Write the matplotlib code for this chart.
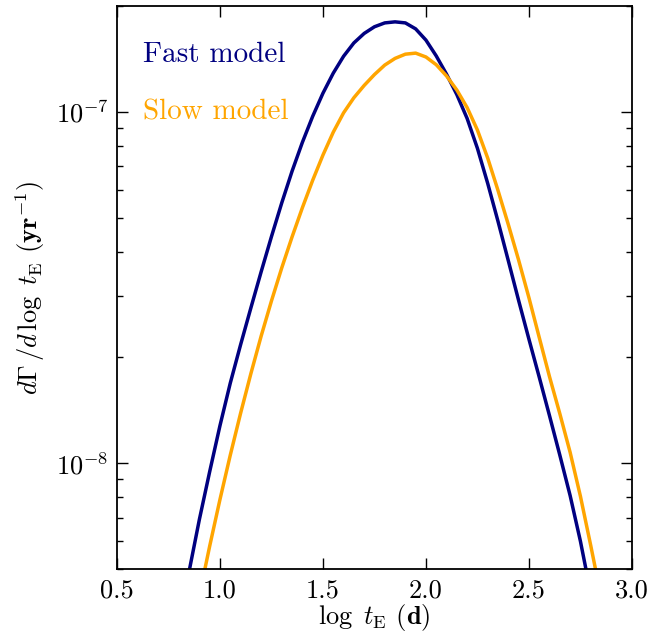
import numpy as np
import matplotlib
matplotlib.use('Agg')
import matplotlib.pyplot as plt

plt.rcParams['font.family'] = 'serif'
plt.rcParams['font.serif'] = ['cmr10']
plt.rcParams['mathtext.fontset'] = 'cm'
plt.rcParams['axes.formatter.use_mathtext'] = True

# log tE grid (days) and log10 of the event rate per model
log_te_fast = [0.80, 0.85, 0.90, 0.95, 1.00, 1.05, 1.10, 1.15, 1.20, 1.25, 1.30, 1.35,
               1.40, 1.45, 1.50, 1.55, 1.60, 1.65, 1.70, 1.75, 1.80, 1.85, 1.90, 1.95,
               2.00, 2.05, 2.10, 2.15, 2.20, 2.25, 2.30, 2.35, 2.40, 2.45, 2.50, 2.55,
               2.60, 2.65, 2.70, 2.75, 2.80]
log_rate_fast = [-8.47, -8.308, -8.160, -8.024, -7.893, -7.772, -7.663, -7.558, -7.455,
                 -7.355, -7.259, -7.169, -7.087, -7.013, -6.947, -6.890, -6.842, -6.804,
                 -6.777, -6.758, -6.747, -6.744, -6.747, -6.764, -6.796, -6.841, -6.893,
                 -6.951, -7.019, -7.104, -7.204, -7.312, -7.424, -7.537, -7.647, -7.755,
                 -7.865, -7.977, -8.092, -8.222, -8.37]

log_te_slow = [0.90, 0.95, 1.00, 1.05, 1.10, 1.15, 1.20, 1.25, 1.30, 1.35, 1.40, 1.45,
               1.50, 1.55, 1.60, 1.65, 1.70, 1.75, 1.80, 1.85, 1.90, 1.95, 2.00, 2.05,
               2.10, 2.15, 2.20, 2.25, 2.30, 2.35, 2.40, 2.45, 2.50, 2.55, 2.60, 2.65,
               2.70, 2.75, 2.80, 2.85]
log_rate_slow = [-8.376, -8.236, -8.103, -7.977, -7.858, -7.745, -7.638, -7.538, -7.444,
                 -7.356, -7.273, -7.195, -7.123, -7.058, -7.003, -6.960, -6.925, -6.894,
                 -6.867, -6.848, -6.836, -6.833, -6.844, -6.866, -6.898, -6.938, -6.988,
                 -7.052, -7.132, -7.224, -7.321, -7.422, -7.529, -7.642, -7.754, -7.859,
                 -7.969, -8.094, -8.234, -8.379]

fig = plt.figure(figsize=(6.67, 6.34), dpi=100)
ax = fig.add_axes([0.1754, 0.1025, 0.772, 0.888])

ax.plot(log_te_fast, 10 ** np.array(log_rate_fast), color='navy', lw=2.5)
ax.plot(log_te_slow, 10 ** np.array(log_rate_slow), color='orange', lw=2.5)

ax.set_yscale('log')
ax.set_xlim(0.5, 3.0)
ax.set_ylim(5e-9, 2e-7)
ax.set_xticks([0.5, 1.0, 1.5, 2.0, 2.5, 3.0])
ax.set_xticklabels(['0.5', '1.0', '1.5', '2.0', '2.5', '3.0'])

ax.tick_params(which='both', direction='in', top=True, right=True, labelsize=19)
ax.tick_params(which='major', length=8, width=1)
ax.tick_params(which='minor', length=4.5, width=1)
ax.tick_params(axis='x', pad=7)
ax.tick_params(axis='y', pad=6)
for s in ax.spines.values():
    s.set_linewidth(1.3)

ax.text(0.05, 0.9, 'Fast model', color='navy', fontsize=21, transform=ax.transAxes)
ax.text(0.05, 0.798, 'Slow model', color='orange', fontsize=21, transform=ax.transAxes)

ax.set_xlabel(r'$\log\ t_{\rm E}$ $\mathbf{(d)}$', fontsize=19, labelpad=0)
ax.set_ylabel(r'$d\Gamma\,/d\,\log\ t_{\rm E}$ $\mathbf{(yr}^{\mathbf{-1}}\mathbf{)}$',
              fontsize=19, labelpad=6)

fig.savefig('out.png', dpi=100)
